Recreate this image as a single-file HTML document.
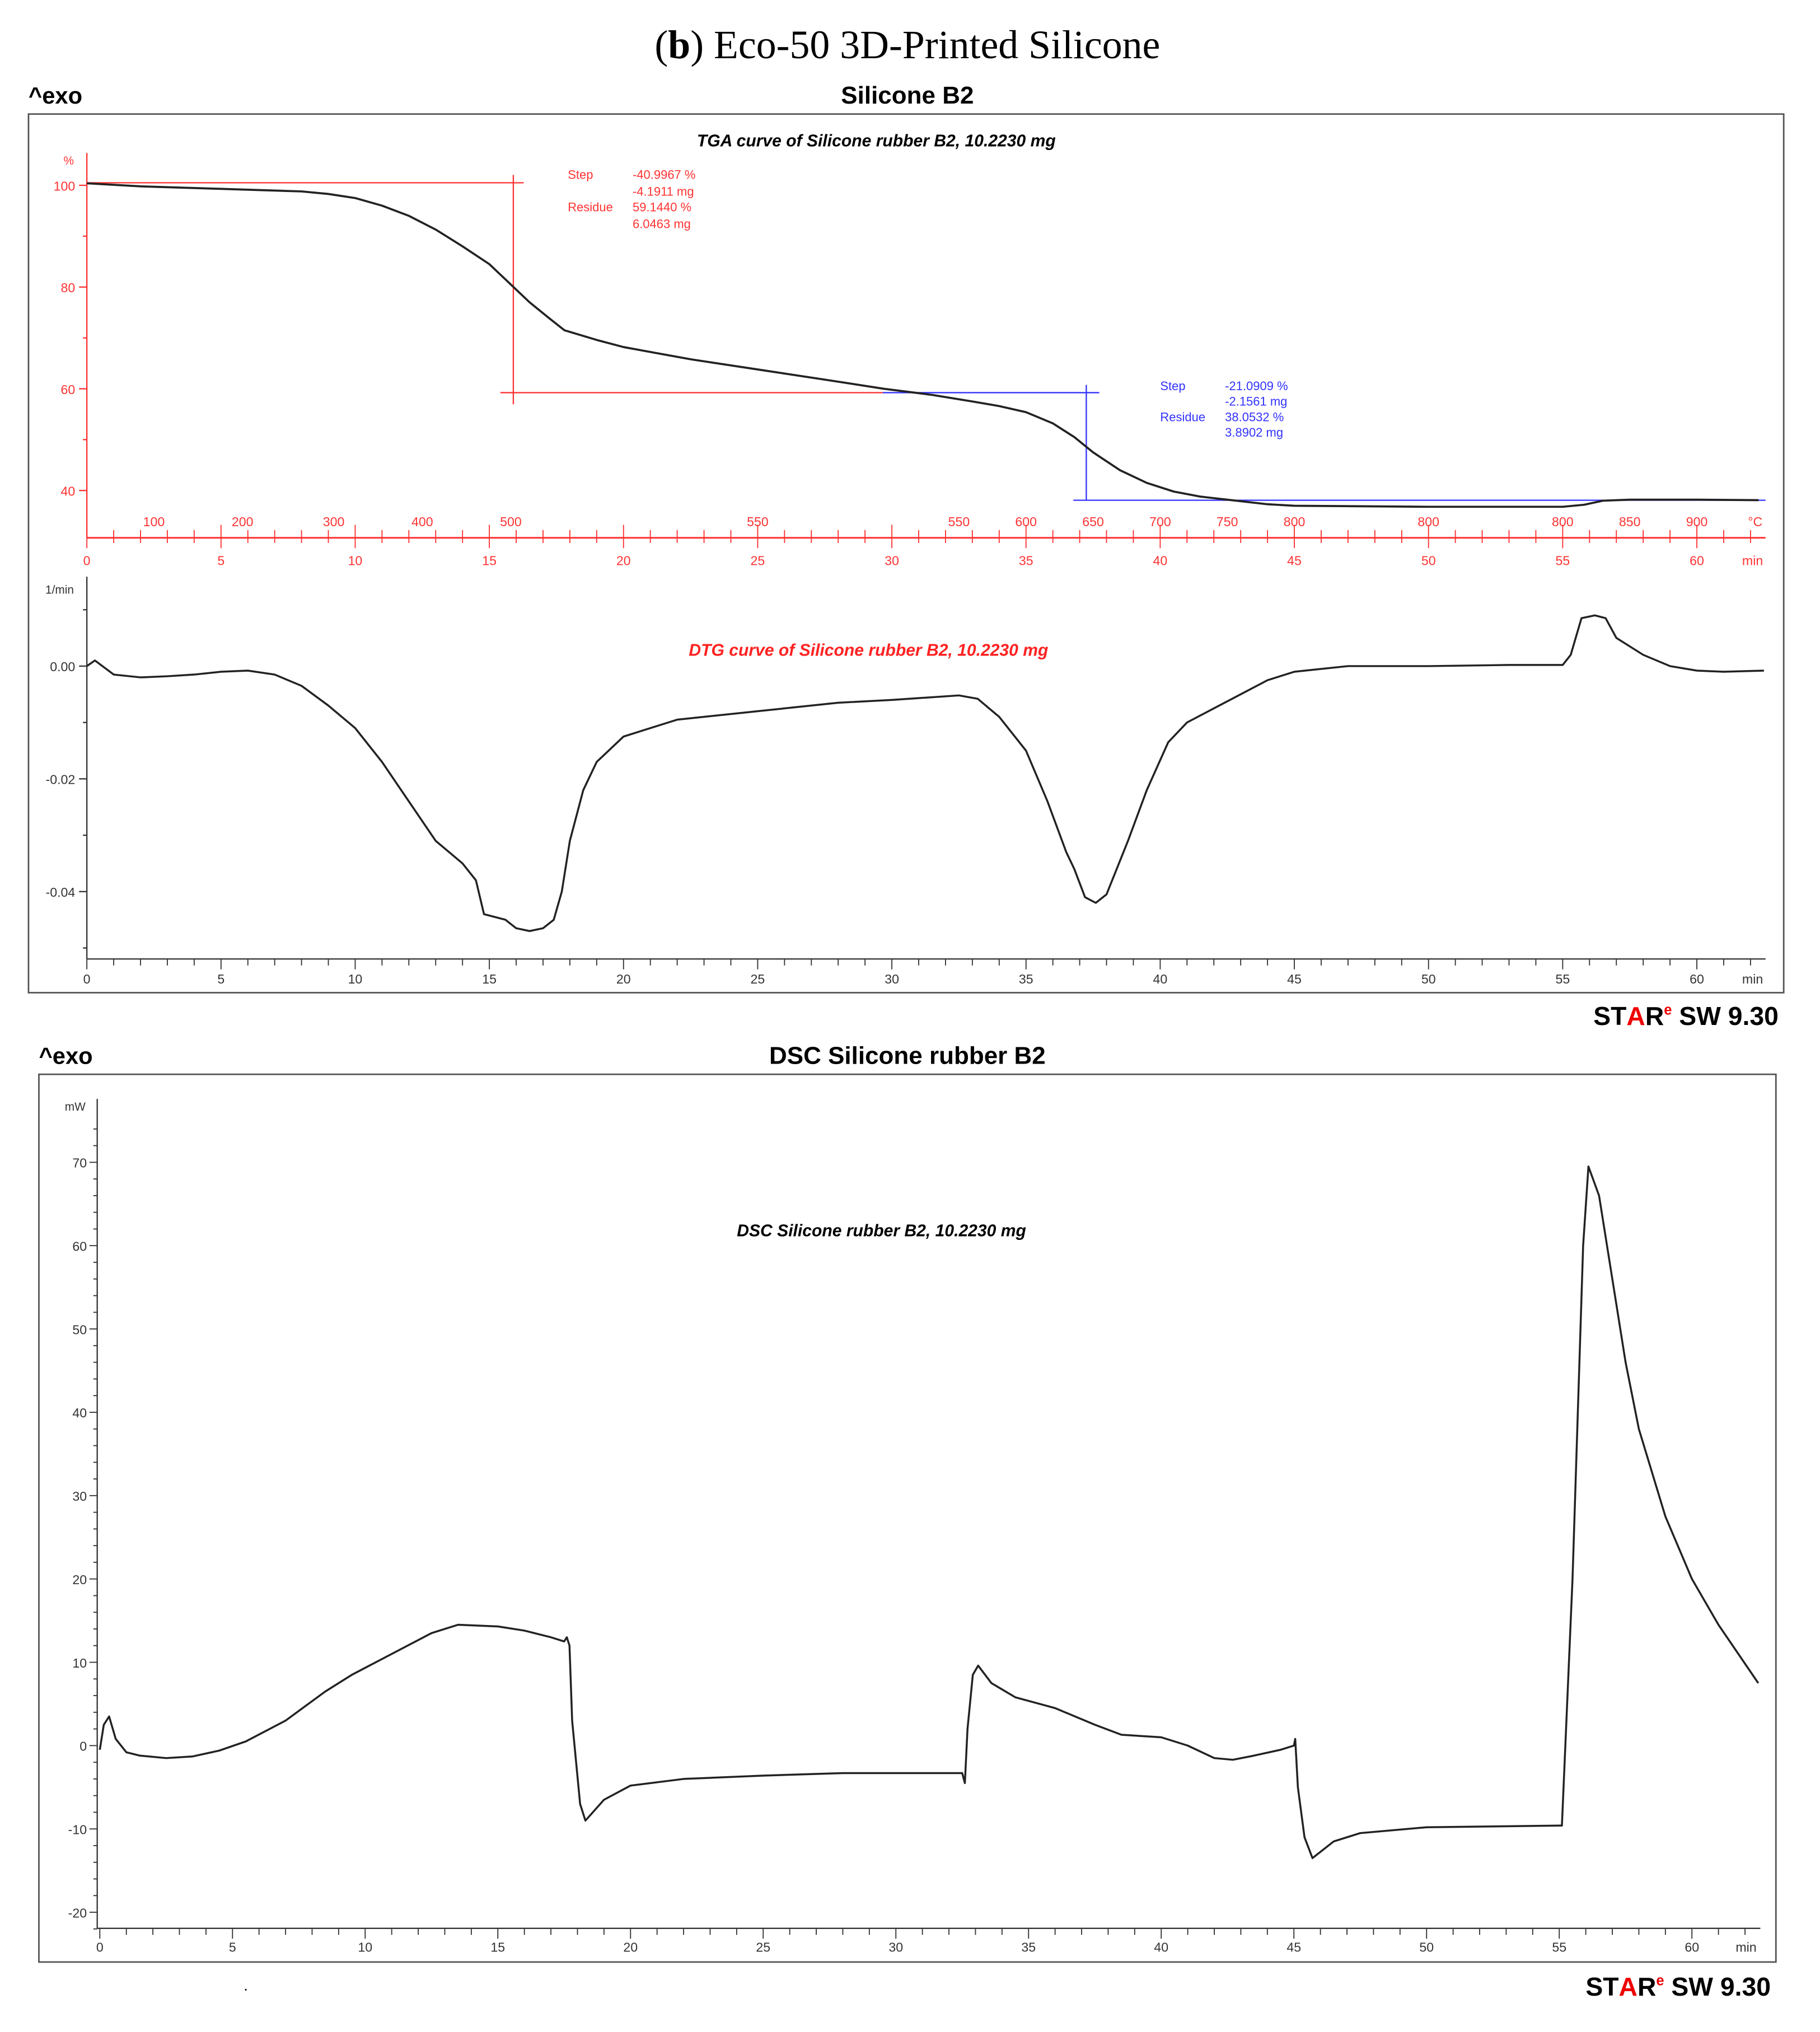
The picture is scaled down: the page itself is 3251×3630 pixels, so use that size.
<!DOCTYPE html>
<html><head><meta charset="utf-8"><style>
html,body{margin:0;padding:0;background:#fff}
svg{display:block}
text{font-family:"Liberation Sans",sans-serif}
</style></head><body>
<svg id="s" width="3251" height="3630" viewBox="0 0 1404 1568" preserveAspectRatio="none">
<text x="700" y="45" text-anchor="middle" font-size="31" style="font-family:'Liberation Serif',serif">(<tspan font-weight="bold">b</tspan>) Eco-50 3D-Printed Silicone</text>
<text x="22" y="80" font-size="18" font-weight="bold">^exo</text>
<text x="700" y="80" text-anchor="middle" font-size="19" font-weight="bold">Silicone B2</text>
<rect x="22" y="88" width="1354" height="678" fill="none" stroke="#555" stroke-width="1.2"/>
<text x="676" y="113" text-anchor="middle" font-size="13" font-weight="bold" font-style="italic">TGA curve of  Silicone rubber B2, 10.2230 mg</text>
<g id="tga"></g>
<g id="dtg"></g>
<text x="1372" y="791" text-anchor="end" font-size="20" font-weight="bold">ST<tspan fill="#e00">A</tspan>R<tspan font-size="11" dy="-8" fill="#e00">e</tspan><tspan dy="8"> SW 9.30</tspan></text>
<text x="30" y="821" font-size="18" font-weight="bold">^exo</text>
<text x="700" y="821" text-anchor="middle" font-size="19" font-weight="bold">DSC Silicone rubber B2</text>
<rect x="30" y="829" width="1340" height="685" fill="none" stroke="#555" stroke-width="1.2"/>
<text x="680" y="954" text-anchor="middle" font-size="13" font-weight="bold" font-style="italic">DSC Silicone rubber B2, 10.2230 mg</text>
<g id="dsc"></g>
<text x="188" y="1536" font-size="12">.</text>
<text x="1366" y="1540" text-anchor="end" font-size="20" font-weight="bold">ST<tspan fill="#e00">A</tspan>R<tspan font-size="11" dy="-8" fill="#e00">e</tspan><tspan dy="8"> SW 9.30</tspan></text>
</svg>
<script>
const tgaTime=[0,2,5,8,9,10,11,12,13,14,15,15.8,16.5,17.2,17.8,19,20,22.5,25,27.5,29.7,31.5,33,34,35,36,36.8,37.5,38.5,39.5,40.5,41.5,42.5,44,45,50,55,55.8,56.5,57.5,60,62.3];
const tgaPct=[100.4,99.8,99.3,98.8,98.3,97.5,96,94,91.3,88,84.5,80.5,77,74,71.5,69.6,68.2,65.8,63.8,61.8,60,58.8,57.5,56.6,55.4,53.2,50.5,47.5,44,41.5,39.8,38.8,38.2,37.3,37,36.8,36.8,37.2,38,38.2,38.2,38.1];
const tgaTicksY=[100,80,60,40];
const minTicks=[0,5,10,15,20,25,30,35,40,45,50,55,60];
const tempLabels=["100","200","300","400","500","550","550","600","650","700","750","800","800","800","850","900"];
const tempTimes=[2.5,5.8,9.2,12.5,15.8,25,32.5,35,37.5,40,42.5,45,50,55,57.5,60];
const dtgTime=[0,0.3,1,2,3,4,5,6,7,8,9,10,11,12,13,14,14.5,14.8,15.2,15.6,16,16.5,17,17.4,17.7,18,18.5,19,20,22,25,28,30,32.5,33.2,34,35,35.8,36.5,36.8,37.2,37.6,38,38.8,39.5,40.3,41,42,43,44,45,47,50,53,55,55.3,55.7,56.2,56.6,57,58,59,60,61,62.5];
const dtgVal=[0.0,0.001,-0.0015,-0.002,-0.0018,-0.0015,-0.001,-0.0008,-0.0015,-0.0035,-0.007,-0.011,-0.017,-0.024,-0.031,-0.035,-0.038,-0.044,-0.0445,-0.045,-0.0465,-0.047,-0.0465,-0.045,-0.04,-0.031,-0.022,-0.017,-0.0125,-0.0095,-0.008,-0.0065,-0.006,-0.0052,-0.0058,-0.009,-0.015,-0.024,-0.033,-0.036,-0.041,-0.042,-0.0405,-0.031,-0.022,-0.0135,-0.01,-0.0075,-0.005,-0.0025,-0.001,0.0,0.0,0.0002,0.0002,0.002,0.0085,0.009,0.0085,0.005,0.002,0.0,-0.0008,-0.001,-0.0008];
const dtgTicksY=[0,-0.02,-0.04];
const dtgTickLabels=["0.00","-0.02","-0.04"];
const dscTime=[0,0.15,0.35,0.6,1,1.5,2.5,3.5,4.5,5.5,7,8.5,9.5,11,12.5,13.5,15,16,17,17.5,17.6,17.7,17.8,18.1,18.3,19,20,22,25,28,32.5,32.6,32.7,32.9,33.1,33.6,34.5,36,37.5,38.5,40,41,42,42.7,43.5,44.5,45,45.05,45.15,45.4,45.7,46.5,47.5,50,52.5,55,55.1,55.5,55.9,56.1,56.5,57,57.5,58,59,60,61,62.5];
const dscVal=[-0.5,2.5,3.5,0.8,-0.8,-1.2,-1.5,-1.3,-0.6,0.5,3,6.5,8.5,11,13.5,14.5,14.3,13.8,13,12.5,13,12,3,-7,-9,-6.5,-4.8,-4,-3.6,-3.3,-3.3,-4.5,2,8.5,9.6,7.5,5.8,4.5,2.5,1.3,1,0,-1.5,-1.7,-1.2,-0.5,0,0.8,-5,-11,-13.5,-11.5,-10.5,-9.8,-9.7,-9.6,-9.6,20,60,69.5,66,56,46,38,27.5,20,14.5,7.5];
const dscTicksY=[70,60,50,40,30,20,10,0,-10,-20];
const NS='http://www.w3.org/2000/svg';
function mk(p,tag,at,txt){const e=document.createElementNS(NS,tag);for(const k in at)e.setAttribute(k,at[k]);if(txt!==undefined)e.textContent=txt;p.appendChild(e);return e;}
const xT=t=>67+20.7*t;
const yTga=v=>143+(100-v)*3.925;
const yDtg=v=>514-v*4350;
const xD=t=>77+20.47*t;
const yDsc=v=>1347-v*6.43;
// TGA
const g=document.getElementById('tga');
const RED='#f33',BLUE='#33f';
let e;
e=mk(g,'line',{x1:67,y1:118,x2:67,y2:415,stroke:RED});


e=mk(g,'text',{x:57,y:127,'font-size':9,fill:RED,'text-anchor':'end'},'%');


tgaTicksY.forEach(v=>{mk(g,'line',{x1:61,x2:67,y1:yTga(v),y2:yTga(v),stroke:RED});
 e=mk(g,'text',{x:58,y:yTga(v)+4,'font-size':10,fill:RED,'text-anchor':'end'},String(v));
 
 });
[90,70,50].forEach(v=>mk(g,'line',{x1:64,x2:67,y1:yTga(v),y2:yTga(v),stroke:RED}));
e=mk(g,'line',{x1:67,y1:415,x2:1362,y2:415,stroke:RED,'stroke-width':1.3});


for(let t=0;t<=62;t++){const big=t%5==0;mk(g,'line',{x1:xT(t),x2:xT(t),y1:big?405:409,y2:big?423:419,stroke:RED,'stroke-width':0.8});}
minTicks.forEach(t=>{e=mk(g,'text',{x:xT(t),y:436,'font-size':10,fill:RED,'text-anchor':'middle'},String(t));
 
 });
e=mk(g,'text',{x:1352,y:436,'font-size':10,fill:RED,'text-anchor':'middle'},'min');
tempLabels.forEach((l,i)=>{e=mk(g,'text',{x:xT(tempTimes[i]),y:406,'font-size':10,fill:RED,'text-anchor':'middle'},l);
 
 });
mk(g,'text',{x:1354,y:406,'font-size':10,fill:RED,'text-anchor':'middle'},'°C');
mk(g,'line',{x1:67,y1:yTga(100.5),x2:404,y2:yTga(100.5),stroke:RED});
mk(g,'line',{x1:396,y1:135,x2:396,y2:312,stroke:RED});
mk(g,'line',{x1:386,y1:303,x2:681,y2:303,stroke:RED});
mk(g,'line',{x1:681,y1:303,x2:848,y2:303,stroke:BLUE});
mk(g,'line',{x1:838,y1:297,x2:838,y2:386,stroke:BLUE});
mk(g,'line',{x1:828,y1:386,x2:1362,y2:386,stroke:BLUE});
const st=(x,y,t,c)=>mk(g,'text',{x,y,'font-size':9.5,fill:c},t);
st(438,138,'Step',RED);st(488,138,'-40.9967 %',RED);st(488,151,'-4.1911 mg',RED);st(438,163,'Residue',RED);st(488,163,'59.1440 %',RED);st(488,176,'6.0463 mg',RED);
st(895,301,'Step',BLUE);st(945,301,'-21.0909 %',BLUE);st(945,313,'-2.1561 mg',BLUE);st(895,325,'Residue',BLUE);st(945,325,'38.0532 %',BLUE);st(945,337,'3.8902 mg',BLUE);
e=mk(g,'polyline',{points:tgaTime.map((t,i)=>xT(t)+','+yTga(tgaPct[i])).join(' '),fill:'none',stroke:'#222','stroke-width':1.6,'stroke-linejoin':'round'});


// DTG
const d=document.getElementById('dtg');
e=mk(d,'line',{x1:67,y1:445,x2:67,y2:740,stroke:'#333'});


mk(d,'text',{x:57,y:458,'font-size':9,fill:'#333','text-anchor':'end'},'1/min');
dtgTicksY.forEach((v,i)=>{mk(d,'line',{x1:61,x2:67,y1:yDtg(v),y2:yDtg(v),stroke:'#333'});
 e=mk(d,'text',{x:58,y:yDtg(v)+4,'font-size':10,fill:'#333','text-anchor':'end'},dtgTickLabels[i]);
 
 });
[0.01,-0.01,-0.03,-0.05].forEach(v=>mk(d,'line',{x1:64,x2:67,y1:yDtg(v),y2:yDtg(v),stroke:'#333'}));
e=mk(d,'line',{x1:67,y1:740,x2:1362,y2:740,stroke:'#333'});


for(let t=0;t<=62;t++){const big=t%5==0;mk(d,'line',{x1:xT(t),x2:xT(t),y1:740,y2:big?748:745,stroke:'#333','stroke-width':0.8});}
minTicks.forEach(t=>{e=mk(d,'text',{x:xT(t),y:759,'font-size':10,fill:'#333','text-anchor':'middle'},String(t));
 
 });
mk(d,'text',{x:1352,y:759,'font-size':10,fill:'#333','text-anchor':'middle'},'min');
e=mk(d,'text',{x:670,y:506,'font-size':13,fill:'#f22','font-weight':'bold','font-style':'italic','text-anchor':'middle'},'DTG curve of  Silicone rubber B2, 10.2230 mg');


e=mk(d,'polyline',{points:dtgTime.map((t,i)=>xT(t)+','+yDtg(dtgVal[i])).join(' '),fill:'none',stroke:'#222','stroke-width':1.5,'stroke-linejoin':'round'});


// DSC
const c=document.getElementById('dsc');
e=mk(c,'line',{x1:75,y1:848,x2:75,y2:1488,stroke:'#333'});


mk(c,'text',{x:66,y:857,'font-size':9,fill:'#333','text-anchor':'end'},'mW');
for(let v=-22;v<=74;v+=2){const big=v%10==0;mk(c,'line',{x1:big?69:72,x2:75,y1:yDsc(v),y2:yDsc(v),stroke:'#333','stroke-width':0.8});}
dscTicksY.forEach(v=>{e=mk(c,'text',{x:67,y:yDsc(v)+4,'font-size':10,fill:'#333','text-anchor':'end'},String(v));
 
 });
e=mk(c,'line',{x1:75,y1:1488,x2:1358,y2:1488,stroke:'#333'});


for(let t=0;t<=62;t++){const big=t%5==0;mk(c,'line',{x1:xD(t),x2:xD(t),y1:1488,y2:big?1496:1493,stroke:'#333','stroke-width':0.8});}
minTicks.forEach(t=>{e=mk(c,'text',{x:xD(t),y:1506,'font-size':10,fill:'#333','text-anchor':'middle'},String(t));
 
 });
mk(c,'text',{x:1347,y:1506,'font-size':10,fill:'#333','text-anchor':'middle'},'min');
e=mk(c,'polyline',{points:dscTime.map((t,i)=>xD(t)+','+yDsc(dscVal[i])).join(' '),fill:'none',stroke:'#222','stroke-width':1.5,'stroke-linejoin':'round'});


</script>
</body></html>
